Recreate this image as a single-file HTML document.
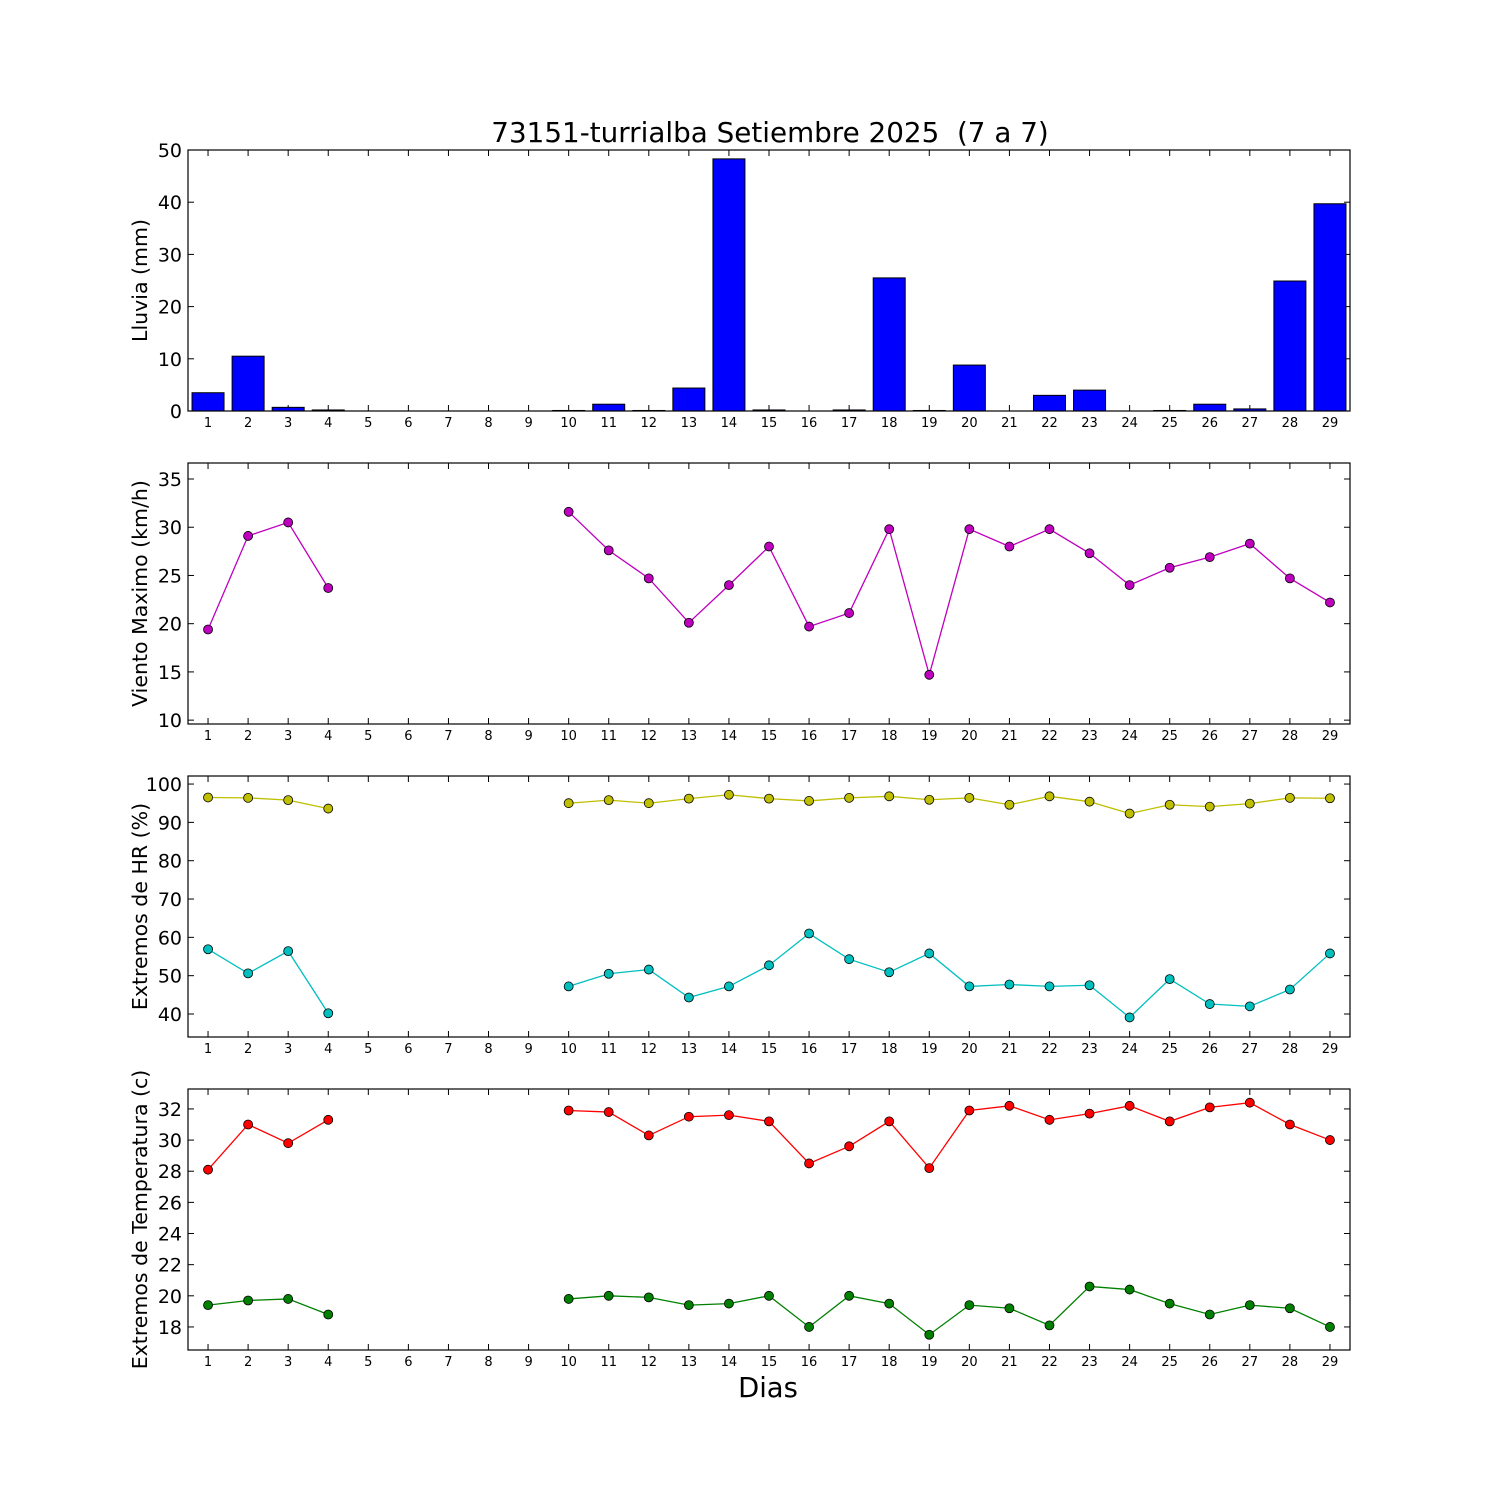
<!DOCTYPE html>
<html><head><meta charset="utf-8"><style>
body{margin:0;background:#fff}
svg{display:block;font-family:"DejaVu Sans","Liberation Sans",sans-serif}
text{white-space:pre}
</style></head><body>
<svg id="chart" width="1500" height="1500" viewBox="0 0 1500 1500"></svg>
<script>
const days=[1,2,3,4,5,6,7,8,9,10,11,12,13,14,15,16,17,18,19,20,21,22,23,24,25,26,27,28,29];
const rain=[3.5,10.5,0.7,0.2,0,0,0,0,0,0.1,1.3,0.1,4.4,48.3,0.2,0,0.2,25.5,0.1,8.8,0,3.0,4.0,0,0.1,1.3,0.4,24.9,39.7];
const wind=[19.4,29.1,30.5,23.7,null,null,null,null,null,31.6,27.6,24.7,20.1,24.0,28.0,19.7,21.1,29.8,14.7,29.8,28.0,29.8,27.3,24.0,25.8,26.9,28.3,24.7,22.2];
const hrMax=[96.5,96.4,95.8,93.6,null,null,null,null,null,95.0,95.8,95.0,96.2,97.2,96.2,95.6,96.4,96.8,95.9,96.4,94.6,96.8,95.4,92.3,94.6,94.1,94.9,96.4,96.3];
const hrMin=[56.9,50.6,56.4,40.2,null,null,null,null,null,47.2,50.5,51.6,44.3,47.2,52.7,61.0,54.3,50.9,55.8,47.2,47.7,47.2,47.5,39.1,49.1,42.6,42.0,46.4,55.8];
const tMax=[28.1,31.0,29.8,31.3,null,null,null,null,null,31.9,31.8,30.3,31.5,31.6,31.2,28.5,29.6,31.2,28.2,31.9,32.2,31.3,31.7,32.2,31.2,32.1,32.4,31.0,30.0];
const tMin=[19.4,19.7,19.8,18.8,null,null,null,null,null,19.8,20.0,19.9,19.4,19.5,20.0,18.0,20.0,19.5,17.5,19.4,19.2,18.1,20.6,20.4,19.5,18.8,19.4,19.2,18.0];
const rainTicks=[0,10,20,30,40,50];
const windTicks=[10,15,20,25,30,35];
const hrTicks=[40,50,60,70,80,90,100];
const tTicks=[18,20,22,24,26,28,30,32];

const NS="http://www.w3.org/2000/svg";
const svg=document.getElementById('chart');
function mk(tag,attrs,parent){const e=document.createElementNS(NS,tag);for(const k in attrs)e.setAttribute(k,attrs[k]);(parent||svg).appendChild(e);return e;}
const L=188,R=1350;
const x=d=>L+(d-0.5)*(R-L)/29;

function panel(name,top,bot,ymin,ymax,ticks,label){
  const g=mk('g',{});
  
  
  const y=v=>bot-(v-ymin)/(ymax-ymin)*(bot-top);
  ticks.forEach(t=>{
    const yy=y(t);
    mk('line',{x1:L,x2:L+6,y1:yy,y2:yy,stroke:'#000'},g);
    mk('line',{x1:R,x2:R-6,y1:yy,y2:yy,stroke:'#000'},g);
    const tx=mk('text',{x:L-6,y:yy+7,'text-anchor':'end','font-size':'19'},g);
    tx.textContent=t;
    
    
  });
  days.forEach(d=>{
    mk('line',{x1:x(d),x2:x(d),y1:bot,y2:bot-6,stroke:'#000'},g);
    mk('line',{x1:x(d),x2:x(d),y1:top,y2:top+6,stroke:'#000'},g);
    const tx=mk('text',{x:x(d),y:bot+16,'text-anchor':'middle','font-size':'13'},g);
    tx.textContent=d;
    
    
  });
  const cy=(top+bot)/2;
  const yl=mk('text',{x:0,y:0,transform:`translate(147,${cy}) rotate(-90)`,'text-anchor':'middle','font-size':'20.5'},g);
  yl.textContent=label;
  
  
  return {g,y,top,bot};
}
function frame(p){mk('rect',{x:L,y:p.top,width:R-L,height:p.bot-p.top,fill:'none',stroke:'#000','stroke-width':1.2},p.g);}
function series(p,vals,color,name){
  let seg=[];const segs=[];
  vals.forEach((v,i)=>{if(v==null){if(seg.length)segs.push(seg);seg=[];}else seg.push([x(days[i]),p.y(v)]);});
  if(seg.length)segs.push(seg);
  segs.forEach(s=>{const pl=mk('polyline',{points:s.map(q=>q.join(',')).join(' '),fill:'none',stroke:color,'stroke-width':1.3},p.g);
    });
  vals.forEach((v,i)=>{if(v==null)return;const c=mk('circle',{cx:x(days[i]),cy:p.y(v),r:4.5,fill:color,stroke:'#000','stroke-width':0.8},p.g);
    });
}

const p1=panel('rain',150,411,0,50,rainTicks,'Lluvia (mm)');
rain.forEach((v,i)=>{const r=mk('rect',{x:x(days[i])-16,y:p1.y(v),width:32,height:p1.y(0)-p1.y(v),fill:'#0000ff',stroke:'#000','stroke-width':1},p1.g);
  });
frame(p1);
const p2=panel('wind',463,724,9.6,36.66,windTicks,'Viento Maximo (km/h)');
series(p2,wind,'#bf00bf','wind');frame(p2);
const p3=panel('humidity',776,1037,34.0,102.1,hrTicks,'Extremos de HR (%)');
series(p3,hrMax,'#bfbf00','hr-max');series(p3,hrMin,'#00bfbf','hr-min');frame(p3);
const p4=panel('temperature',1089,1350,16.52,33.28,tTicks,'Extremos de Temperatura (c)');
series(p4,tMax,'#ff0000','temp-max');series(p4,tMin,'#008000','temp-min');frame(p4);

const t=mk('text',{x:770,y:142,'text-anchor':'middle','font-size':'27.8'});
t.textContent='73151-turrialba Setiembre 2025  (7 a 7)';


const xt=mk('text',{x:768,y:1397,'text-anchor':'middle','font-size':'27.4'});
xt.textContent='Dias';


</script>
</body></html>
